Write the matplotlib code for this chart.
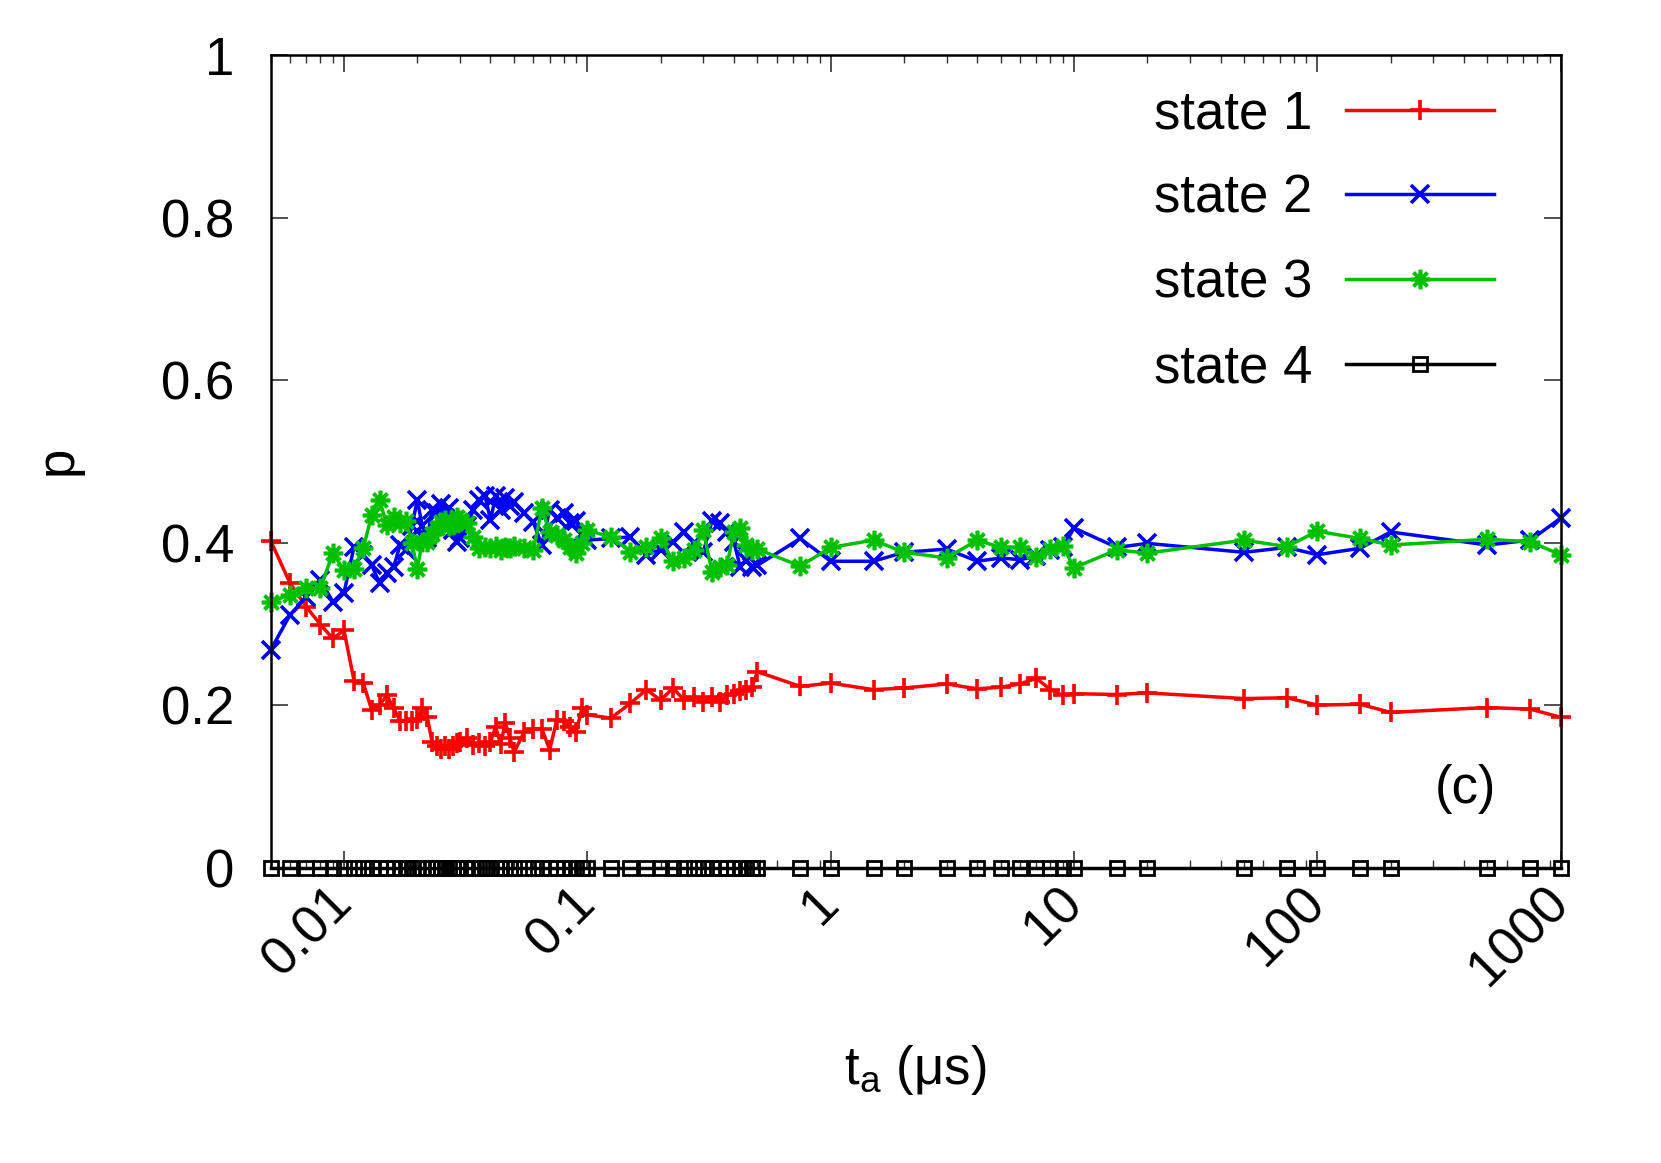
import matplotlib
matplotlib.use('Agg')
from matplotlib import pyplot as plt
from matplotlib.ticker import FixedLocator, LogLocator, NullFormatter

plt.rcParams['font.family'] = ['Liberation Sans', 'DejaVu Sans']
plt.rcParams['mathtext.default'] = 'regular'

# annealing time t_a (us)
t_a = [0.005, 0.006, 0.007, 0.008, 0.009, 0.010, 0.011, 0.012, 0.013, 0.014,
       0.015, 0.016, 0.017, 0.018, 0.019, 0.020, 0.021, 0.022, 0.023, 0.024,
       0.025, 0.026, 0.027, 0.028, 0.029, 0.030, 0.032, 0.034, 0.036, 0.038,
       0.040, 0.042, 0.044, 0.046, 0.048, 0.050, 0.055, 0.060, 0.065, 0.070,
       0.075, 0.080, 0.085, 0.090, 0.095, 0.100, 0.125, 0.150, 0.175, 0.200,
       0.225, 0.250, 0.275, 0.300, 0.325, 0.350, 0.375, 0.400, 0.425, 0.450,
       0.475, 0.500, 0.75, 1, 1.5, 2, 3, 4, 5, 6,
       7, 8, 9, 10, 15, 20, 50, 75, 100, 150,
       200, 500, 750, 1000]

state1 = [0.402, 0.350, 0.321, 0.299, 0.282, 0.292, 0.230, 0.227, 0.194, 0.200,
          0.212, 0.196, 0.181, 0.181, 0.181, 0.183, 0.197, 0.185, 0.155, 0.150,
          0.146, 0.150, 0.146, 0.150, 0.153, 0.155, 0.159, 0.151, 0.153, 0.150,
          0.155, 0.173, 0.152, 0.178, 0.160, 0.142, 0.167, 0.171, 0.171, 0.145,
          0.182, 0.180, 0.173, 0.167, 0.196, 0.188, 0.184, 0.202, 0.219, 0.206,
          0.221, 0.206, 0.210, 0.204, 0.210, 0.204, 0.212, 0.214, 0.217, 0.219,
          0.222, 0.241, 0.223, 0.227, 0.219, 0.221, 0.226, 0.220, 0.222, 0.226,
          0.233, 0.219, 0.212, 0.214, 0.213, 0.215, 0.208, 0.209, 0.200, 0.201,
          0.191, 0.197, 0.195, 0.185]

state2 = [0.268, 0.311, 0.333, 0.354, 0.327, 0.338, 0.395, 0.385, 0.372, 0.350,
          0.362, 0.370, 0.397, 0.391, 0.420, 0.452, 0.420, 0.405, 0.440, 0.436,
          0.448, 0.430, 0.442, 0.415, 0.401, 0.405, 0.420, 0.440, 0.452, 0.457,
          0.428, 0.457, 0.440, 0.455, 0.445, 0.450, 0.436, 0.425, 0.397, 0.440,
          0.430, 0.436, 0.424, 0.426, 0.410, 0.403, 0.405, 0.407, 0.385, 0.391,
          0.401, 0.413, 0.399, 0.389, 0.426, 0.424, 0.413, 0.401, 0.370, 0.378,
          0.370, 0.372, 0.405, 0.377, 0.377, 0.388, 0.392, 0.377, 0.381, 0.379,
          0.383, 0.391, 0.394, 0.418, 0.394, 0.399, 0.388, 0.394, 0.385, 0.393,
          0.413, 0.397, 0.403, 0.430]

state3 = [0.327, 0.336, 0.344, 0.344, 0.387, 0.366, 0.368, 0.393, 0.434, 0.452,
          0.422, 0.432, 0.424, 0.426, 0.400, 0.368, 0.401, 0.401, 0.410, 0.418,
          0.425, 0.428, 0.420, 0.422, 0.432, 0.428, 0.424, 0.407, 0.393, 0.395,
          0.393, 0.396, 0.391, 0.395, 0.393, 0.396, 0.393, 0.391, 0.442, 0.413,
          0.409, 0.403, 0.395, 0.387, 0.400, 0.415, 0.407, 0.389, 0.395, 0.405,
          0.377, 0.381, 0.391, 0.415, 0.364, 0.370, 0.372, 0.413, 0.418, 0.397,
          0.391, 0.392, 0.371, 0.394, 0.403, 0.388, 0.381, 0.403, 0.394, 0.394,
          0.382, 0.392, 0.396, 0.369, 0.391, 0.387, 0.403, 0.395, 0.414, 0.405,
          0.397, 0.404, 0.401, 0.385]

state4 = [0.0] * len(t_a)

xticks = [0.01, 0.1, 1, 10, 100, 1000]
xticklabels = ['0.01', '0.1', '1', '10', '100', '1000']
yticks = [0, 0.2, 0.4, 0.6, 0.8, 1]
yticklabels = ['0', '0.2', '0.4', '0.6', '0.8', '1']

fs = 38

fig = plt.figure(figsize=(16.61, 11.63), dpi=100)
ax = fig.add_axes([0.163, 0.254, 0.7766, 0.6987])

lw = 2.5
ax.plot(t_a, state1, color='#ff0000', lw=lw, marker='+', ms=14, mew=2.6,
        label='state 1', clip_on=False)
ax.plot(t_a, state2, color='#0000ff', lw=lw, marker='x', ms=13, mew=2.6,
        label='state 2', clip_on=False)
ax.plot(t_a, state3, color='#00c000', lw=lw, marker=(8, 2, 0), ms=14, mew=2.6,
        label='state 3', clip_on=False)
ax.plot(t_a, state4, color='black', lw=lw, marker='s', ms=10.5, mew=2,
        mfc='none', label='state 4', clip_on=False)

ax.set_xscale('log')
ax.set_xlim(0.005, 1000)
ax.set_ylim(0, 1)

ax.xaxis.set_major_locator(FixedLocator(xticks))
ax.set_xticklabels(xticklabels)
ax.xaxis.set_minor_locator(LogLocator(base=10, subs=[2, 3, 4, 5, 6, 7, 8, 9], numticks=100))
ax.xaxis.set_minor_formatter(NullFormatter())
ax.set_yticks(yticks)
ax.set_yticklabels(yticklabels)

ax.tick_params(which='both', direction='in', top=True, right=True,
               labelsize=fs, color='#333333')
ax.tick_params(which='major', length=12, width=1.2)
ax.tick_params(which='minor', length=6, width=1)
ax.tick_params(axis='y', pad=26)
ax.tick_params(axis='x', pad=20)
for lab in ax.get_xticklabels():
    lab.set_rotation(45)
    lab.set_ha('right')
    lab.set_va('center')
    lab.set_rotation_mode('anchor')

for s in ax.spines.values():
    s.set_linewidth(1.8)

ax.legend(loc='upper right', bbox_to_anchor=(0.948, 0.958), frameon=False,
          fontsize=fs, markerfirst=False, handlelength=2.8, handletextpad=0.64,
          labelspacing=0.66, borderpad=0, borderaxespad=0, numpoints=1)

ax.text(0.926, 0.097, '(c)', transform=ax.transAxes, fontsize=fs,
        ha='center', va='center')

fig.text(0.551, 0.08, 't$_a$ (μs)', fontsize=fs, ha='center', va='center')
fig.text(0.035, 0.604, 'p', fontsize=fs, ha='center', va='center', rotation=90)

fig.savefig('out.png', dpi=100)
